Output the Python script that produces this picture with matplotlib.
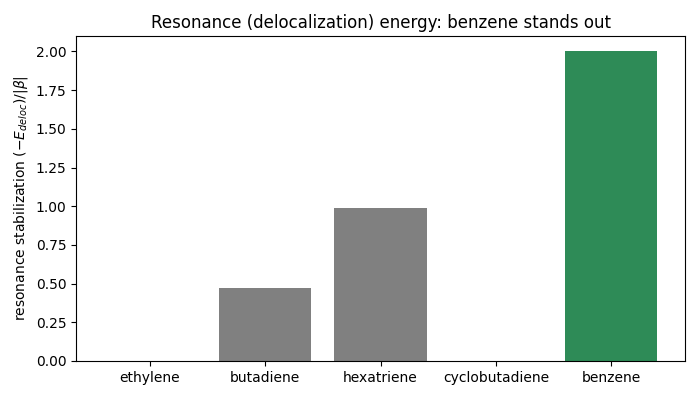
import matplotlib
matplotlib.use("Agg")
import matplotlib.pyplot as plt

molecules = ["ethylene", "butadiene", "hexatriene", "cyclobutadiene", "benzene"]
stabilization = [0.0, 0.472, 0.988, 0.0, 2.0]
colors = ["gray", "gray", "gray", "gray", "seagreen"]

fig, ax = plt.subplots(figsize=(7, 4), dpi=100)
ax.bar(molecules, stabilization, color=colors)
ax.set_ylabel(r"resonance stabilization ($-E_{deloc}$)/$|\beta|$")
ax.set_title("Resonance (delocalization) energy: benzene stands out")
ax.yaxis.set_major_formatter(matplotlib.ticker.FormatStrFormatter("%.2f"))
fig.subplots_adjust(left=0.1086, right=0.9786, top=0.91, bottom=0.0975)
fig.savefig("out.png")
